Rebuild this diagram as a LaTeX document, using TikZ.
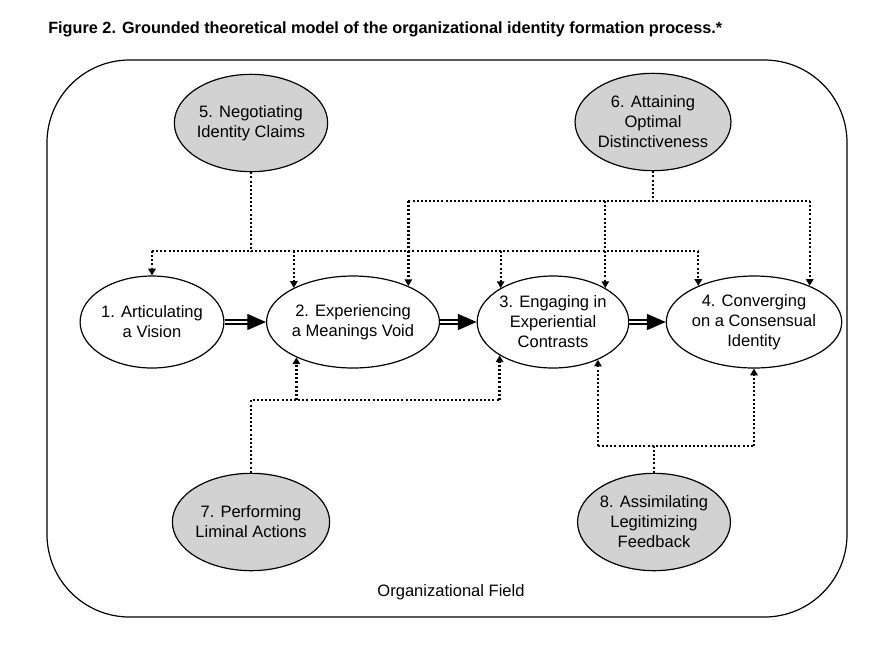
\documentclass[tikz,border=0pt]{standalone}
\usepackage{fontspec}
\setmainfont{Liberation Sans}
\usetikzlibrary{shapes.geometric,arrows.meta}

\tikzset{
  stage/.style={ellipse, draw, line width=0.9pt, minimum width=106.5pt, minimum height=69pt,
    inner sep=0pt, align=center, font=\fontsize{12.4}{15}\selectfont},
  driver/.style={stage, fill=gray!35, minimum height=73pt},
  dotline/.style={line width=1.7pt, dash pattern=on 1.5pt off 1.6pt},
  dotarrow/.style={dotline, -{Triangle[length=5pt,width=5.5pt]}},
  bigarrow/.style={double, double distance=1.9pt, line width=1pt, -{Triangle[length=14pt,width=12pt]}},
}

\begin{document}
\begin{tikzpicture}[x=0.75pt,y=-0.75pt]
    \useasboundingbox (0,0) rectangle (892,644);
    % Title
    \node[anchor=base west, inner sep=0pt, font=\bfseries\fontsize{12.2}{14}\selectfont] (title) at (48,33)
        {Figure 2. Grounded theoretical model of the organizational identity formation process.*};
    % Organizational Field
    \draw[line width=0.9pt, rounded corners=62pt] (47,60) rectangle (847,617);
    \node[font=\fontsize{12.4}{15}\selectfont] (field) at (451,592) {Organizational Field};
    % Stages
    \foreach \name/\x/\i in {{1. Articulating\\a Vision}/152/1,
                             {2. Experiencing\\a Meanings Void}/353/2,
                             {3. Engaging in\\Experiential\\Contrasts}/553/3,
                             {4. Converging\\on a Consensual\\Identity}/754/4} {
        \node[stage] (n\i) at (\x,322) {\name};
    }
    % Drivers
    \node[driver] (n5) at (251,123) {5. Negotiating\\Identity Claims};
    \node[driver] (n6) at (653,122) {6. Attaining\\Optimal\\Distinctiveness};
    \node[driver] (n7) at (251,522) {7. Performing\\Liminal Actions};
    \node[driver] (n8) at (654,522) {8. Assimilating\\Legitimizing\\Feedback};
    \coordinate (b5) at (251,251);
    \coordinate (b6) at (653,201);
    \coordinate (b7) at (251,400);
    \coordinate (b8) at (654,446);
    % Arrows
    \draw[dotline] (n5.south) -- (b5);
    \draw[dotline] (n1.north |- b5) -- (n4.147 |- b5);
    \foreach \a in {n1.north,n2.150,n3.147,n4.147} {
        \draw[dotarrow] (\a |- b5) -- (\a);
    }
    \draw[dotline] (n6.south) -- (b6);
    \draw[dotline] (n2.33 |- b6) -- (n4.33 |- b6);
    \foreach \a in {n2.33,n3.33,n4.33} {
        \draw[dotarrow] (\a |- b6) -- (\a);
    }
    \draw[dotline] (n7.north) |- (n3.212 |- b7);
    \foreach \a in {n2.212,n3.212} {
        \draw[dotarrow] (\a |- b7) -- (\a);
    }
    \draw[dotline] (n8.north) -- (b8);
    \draw[dotline] (n3.320 |- b8) -- (n4.south |- b8);
    \foreach \a in {n3.320,n4.south} {
        \draw[dotarrow] (\a |- b8) -- (\a);
    }
    \foreach \i/\j in {1/2,2/3,3/4} {
        \draw[bigarrow] (n\i) -- (n\j);
    }
\end{tikzpicture}
\end{document}
